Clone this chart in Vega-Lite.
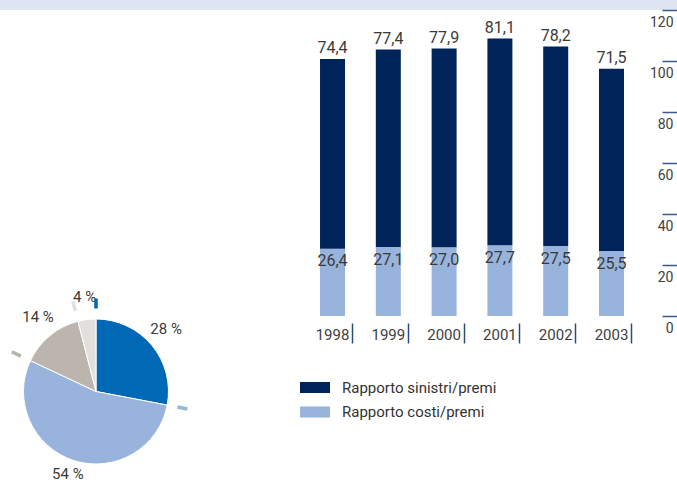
{
  "$schema": "https://vega.github.io/schema/vega-lite/v6.json",
  "padding": 0,
  "background": "white",
  "spacing": 0,
  "bounds": "flush",
  "resolve": {"scale": {"color": "independent", "stroke": "independent"}, "legend": {"color": "independent", "stroke": "independent"}},
  "config": {
    "view": {"stroke": null},
    "font": "Roboto",
    "locale": {"number": {"decimal": ",", "thousands": ".", "grouping": [3], "currency": ["", " €"]}}
  },
  "vconcat": [
    {
      "width": 677,
      "height": 10,
      "view": {"fill": "#dfe6f2", "stroke": null},
      "data": {"values": [{"k": 1}]},
      "mark": {"type": "text", "fontSize": 1},
      "encoding": {"text": {"value": ""}}
    },
    {
      "bounds": "flush",
      "spacing": 300,
      "resolve": {"scale": {"color": "independent", "stroke": "independent"}, "legend": {"color": "independent", "stroke": "independent"}},
      "hconcat": [
        {
          "bounds": "flush",
          "spacing": 0,
          "vconcat": [
            {
              "width": 192,
              "height": 285,
              "data": {"values": [{"k": 1}]},
              "mark": {"type": "text", "fontSize": 1},
              "encoding": {"text": {"value": ""}}
            },
            {
              "width": 192,
              "height": 193,
              "layer": [
                {
                  "data": {"values": [
                    {"cat": "a", "idx": 1, "value": 28, "label": "28 %"},
                    {"cat": "b", "idx": 2, "value": 54, "label": "54 %"},
                    {"cat": "c", "idx": 3, "value": 14, "label": "14 %"},
                    {"cat": "d", "idx": 4, "value": 4, "label": "4 %"}
                  ]},
                  "layer": [
                    {
                      "mark": {"type": "arc", "outerRadius": 72.5, "stroke": "white", "strokeWidth": 1},
                      "encoding": {
                        "theta": {"field": "value", "type": "quantitative", "stack": true},
                        "order": {"field": "idx", "type": "quantitative"},
                        "color": {"field": "cat", "type": "nominal", "legend": null,
                          "scale": {"domain": ["a", "b", "c", "d"], "range": ["#0068b4", "#98b3dc", "#bcb5ae", "#e3dfdc"]}}
                      }
                    },
                    {
                      "mark": {"type": "text", "radius": 91, "dy": -4.5, "fontSize": 15, "color": "#3a3a3a"},
                      "encoding": {
                        "theta": {"field": "value", "type": "quantitative", "stack": true},
                        "order": {"field": "idx", "type": "quantitative"},
                        "text": {"field": "label", "type": "nominal"}
                      }
                    }
                  ]
                },
                {
                  "data": {"values": [
                    {"cat": "a", "start": 0},
                    {"cat": "b", "start": 28},
                    {"cat": "c", "start": 82},
                    {"cat": "d", "start": 96}
                  ]},
                  "mark": {"type": "arc", "innerRadius": 83, "outerRadius": 93, "filled": false, "strokeWidth": 3.5, "strokeCap": "butt"},
                  "encoding": {
                    "theta": {"field": "start", "type": "quantitative", "stack": null},
                    "theta2": {"field": "start"},
                    "stroke": {"field": "cat", "type": "nominal", "legend": null,
                      "scale": {"domain": ["a", "b", "c", "d"], "range": ["#0068b4", "#98b3dc", "#bcb5ae", "#e3dfdc"]}}
                  }
                }
              ]
            }
          ]
        },
        {
          "width": 362,
          "height": 306,
          "data": {"values": [
            {"year": "1998", "serie": "Rapporto costi/premi", "ord": 1, "value": 26.4},
            {"year": "1998", "serie": "Rapporto sinistri/premi", "ord": 2, "value": 74.4},
            {"year": "1999", "serie": "Rapporto costi/premi", "ord": 1, "value": 27.1},
            {"year": "1999", "serie": "Rapporto sinistri/premi", "ord": 2, "value": 77.4},
            {"year": "2000", "serie": "Rapporto costi/premi", "ord": 1, "value": 27.0},
            {"year": "2000", "serie": "Rapporto sinistri/premi", "ord": 2, "value": 77.9},
            {"year": "2001", "serie": "Rapporto costi/premi", "ord": 1, "value": 27.7},
            {"year": "2001", "serie": "Rapporto sinistri/premi", "ord": 2, "value": 81.1},
            {"year": "2002", "serie": "Rapporto costi/premi", "ord": 1, "value": 27.5},
            {"year": "2002", "serie": "Rapporto sinistri/premi", "ord": 2, "value": 78.2},
            {"year": "2003", "serie": "Rapporto costi/premi", "ord": 1, "value": 25.5},
            {"year": "2003", "serie": "Rapporto sinistri/premi", "ord": 2, "value": 71.5}
          ]},
          "transform": [
            {"stack": "value", "groupby": ["year"], "sort": [{"field": "ord", "order": "ascending"}], "as": ["v0", "v1"]}
          ],
          "encoding": {
            "x": {"field": "year", "type": "nominal",
              "scale": {"paddingInner": 0.552, "paddingOuter": 0.52, "align": 0.345},
              "axis": {"title": null, "domain": false, "offset": 7, "tickSize": 20, "tickOffset": 19.5, "labelOffset": -20,
                "labelPadding": -16, "tickColor": "#2d4a80", "tickWidth": 1.5, "labelAngle": 0, "labelFontSize": 15, "labelColor": "#404040"}}
          },
          "layer": [
            {
              "mark": {"type": "bar"},
              "encoding": {
                "y": {"field": "v1", "type": "quantitative",
                  "scale": {"domain": [0, 120]},
                  "axis": {"orient": "right", "title": null, "values": [0, 20, 40, 60, 80, 100, 120], "grid": false, "domain": false,
                    "tickSize": 15, "tickColor": "#3b5a8e", "tickWidth": 1.5, "labelAlign": "right", "labelBaseline": "top",
                    "labelOffset": 5, "labelPadding": -4, "labelFontSize": 14, "labelColor": "#404040"}},
                "y2": {"field": "v0"},
                "color": {"field": "serie", "type": "nominal",
                  "scale": {"domain": ["Rapporto sinistri/premi", "Rapporto costi/premi"], "range": ["#00235a", "#98b3dc"]},
                  "legend": {"orient": "none", "legendX": 0, "legendY": 362.5, "title": null, "padding": 0,
                    "symbolType": "M-1,-0.367H1V0.367H-1Z", "symbolSize": 900, "symbolStrokeWidth": 0,
                    "labelFontSize": 15, "labelOffset": 12, "rowPadding": 1.5, "labelColor": "#333333"}}
              }
            },
            {
              "transform": [{"filter": "datum.ord == 2"}],
              "mark": {"type": "text", "baseline": "alphabetic", "dy": -5.5, "fontSize": 16, "color": "#3a3a3a"},
              "encoding": {
                "y": {"field": "v1", "type": "quantitative"},
                "text": {"field": "value", "type": "quantitative", "format": ".1f"}
              }
            },
            {
              "transform": [{"filter": "datum.ord == 1"}],
              "mark": {"type": "text", "baseline": "alphabetic", "dy": 17.7, "fontSize": 16, "color": "#3a3a3a"},
              "encoding": {
                "y": {"field": "v1", "type": "quantitative"},
                "text": {"field": "value", "type": "quantitative", "format": ".1f"}
              }
            },
            {
              "mark": {"type": "rule", "color": "#1c3666", "strokeWidth": 1.5},
              "encoding": {"y": {"datum": 0}}
            }
          ]
        }
      ]
    }
  ]
}
